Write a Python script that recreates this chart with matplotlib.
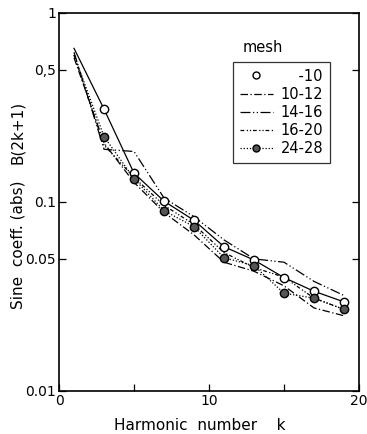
import matplotlib
matplotlib.use("Agg")
import matplotlib.pyplot as plt
from matplotlib.lines import Line2D

plt.rcParams['font.family'] = ['DejaVu Sans']

k = [1, 3, 5, 7, 9, 11, 13, 15, 17, 19]
mesh_10 = [0.65, 0.31, 0.142, 0.101, 0.080, 0.058, 0.0493, 0.0398, 0.0337, 0.0296]
mesh_10_12 = [0.58, 0.205, 0.127, 0.088, 0.067, 0.048, 0.043, 0.036, 0.0275, 0.025]
mesh_14_16 = [0.62, 0.19, 0.185, 0.105, 0.0836, 0.063, 0.050, 0.048, 0.038, 0.032]
mesh_16_20 = [0.60, 0.20, 0.135, 0.096, 0.076, 0.054, 0.045, 0.040, 0.031, 0.027]
mesh_24_28 = [0.60, 0.222, 0.133, 0.090, 0.074, 0.0507, 0.046, 0.0329, 0.031, 0.027]
legend_labels = ["-10", "10-12", "14-16", "16-20", "24-28"]

fig = plt.figure(figsize=(3.67, 4.34), dpi=100)
ax = fig.add_axes([0.1608, 0.0991, 0.8175, 0.871])

lw = 0.9
marks = list(range(1, len(k)))
ax.plot(k, mesh_10, color='black', lw=lw, ls='-', marker='o', ms=6,
        mfc='white', mec='black', mew=1.0, zorder=5, markevery=marks)
ax.plot(k, mesh_10_12, color='black', lw=lw, ls=(0, (6, 2, 1, 2)))
ax.plot(k, mesh_14_16, color='black', lw=lw, ls=(0, (8, 2, 1, 2, 1, 2)))
ax.plot(k, mesh_16_20, color='black', lw=lw, ls=(0, (3, 2, 1, 1.5, 1, 1.5)))
ax.plot(k, mesh_24_28, color='black', lw=lw, ls=(0, (1, 1.5)),
        marker='o', ms=6, mfc='#555555', mec='black', mew=1.0, zorder=6,
        markevery=marks)

ax.set_yscale('log')
ax.set_xlim(0, 20)
ax.set_ylim(0.01, 1)
ax.set_xticks([0, 5, 10, 15, 20])
ax.set_xticklabels(['0', '', '10', '', '20'])
ax.set_yticks([0.01, 0.05, 0.1, 0.5, 1])
ax.set_yticklabels(['0.01', '0.05', '0.1', '0,5', '1'])
ax.yaxis.set_minor_locator(matplotlib.ticker.NullLocator())
ax.tick_params(axis='both', direction='in', length=5, width=0.9,
               labelsize=10, pad=2, right=True)
for s in ax.spines.values():
    s.set_linewidth(1.2)

handles = [
    Line2D([], [], ls='none', marker='o', ms=5, mfc='white', mec='black'),
    Line2D([], [], color='black', lw=lw, ls=(0, (6, 2, 1, 2))),
    Line2D([], [], color='black', lw=lw, ls=(0, (8, 2, 1, 2, 1, 2))),
    Line2D([], [], color='black', lw=lw, ls=(0, (3, 2, 1, 1.5, 1, 1.5))),
    Line2D([], [], color='black', lw=lw, ls=(0, (1, 1.5)), marker='o', ms=5,
           mfc='#555555', mec='black'),
]
labs = ['\u2007\u2007' + legend_labels[0]] + legend_labels[1:]
leg = ax.legend(handles, labs, loc='upper left',
                bbox_to_anchor=(233 / 367, 1 - 62 / 434),
                bbox_transform=fig.transFigure, frameon=True, fancybox=False,
                edgecolor='black', fontsize=10.5, handlelength=2.3,
                handletextpad=0.5, labelspacing=0.22, borderpad=0.45,
                numpoints=1, borderaxespad=0)
leg.get_frame().set_linewidth(0.9)
fig.text(263 / 367, 1 - 47 / 434, 'mesh', ha='center', va='center', fontsize=10.5)

fig.text(18 / 367, 1 - 245 / 434, 'Sine  coeff. (abs)', rotation=90,
         ha='center', va='center', fontsize=11)
fig.text(18 / 367, 1 - 132 / 434, 'B(2k+1)', rotation=90,
         ha='center', va='center', fontsize=11)
fig.text(200 / 367, 1 - 425 / 434, 'Harmonic  number    k', ha='center',
         va='center', fontsize=11)

fig.savefig('out.png', dpi=100)
